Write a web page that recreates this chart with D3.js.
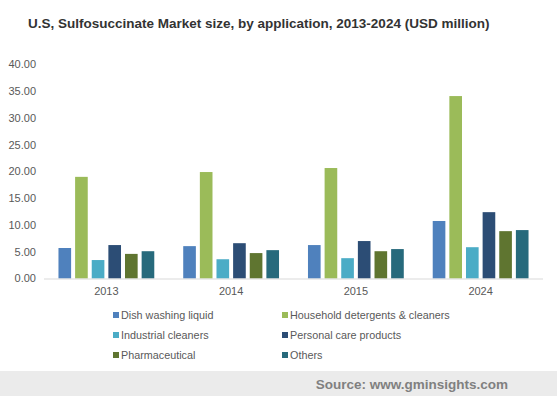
<!DOCTYPE html>
<html>
<head>
<meta charset="utf-8">
<script src="https://cdn.jsdelivr.net/npm/d3@7"></script>
<style>
  body { margin: 0; background: #fff; }
  svg { display: block; font-family: "Liberation Sans", Arial, sans-serif; }
</style>
</head>
<body>
<div id="chart"></div>
<script>
// US sulfosuccinate market by application, grouped bars

const years = ["2013", "2014", "2015", "2024"];
const seriesNames = [
  "Dish washing liquid",
  "Household detergents & cleaners",
  "Industrial cleaners",
  "Personal care products",
  "Pharmaceutical",
  "Others"
];
const dishWashing   = [5.7, 6.05, 6.25, 10.75];
const household     = [19.0, 19.9, 20.65, 34.1];
const industrial    = [3.45, 3.6, 3.8, 5.85];
const personalCare  = [6.25, 6.6, 7.0, 12.4];
const pharma        = [4.6, 4.75, 5.1, 8.85];
const others        = [5.1, 5.3, 5.5, 9.05];
const yTicks = [0, 5, 10, 15, 20, 25, 30, 35, 40];

const colors = ["#4F81BD", "#9BBB59", "#4BACC6", "#2C4D75", "#5F7530", "#276A7C"];
const allSeries = [dishWashing, household, industrial, personalCare, pharma, others];

const W = 557, H = 396;
const m = { left: 44, right: 14, top: 65, bottom: 118 };

const svg = d3.select("#chart").append("svg")
  .attr("width", W)
  .attr("height", H);

svg.append("text")
  .attr("x", 28)
  .attr("y", 28)
  .attr("font-size", 13.5)
  .attr("font-weight", "bold")
  .attr("fill", "#333")
  .text("U.S, Sulfosuccinate Market size, by application, 2013-2024 (USD million)");

const x0 = d3.scaleBand()
  .domain(years)
  .range([m.left, W - m.right])
  .paddingInner(0.2)
  .paddingOuter(0.1);

const x1 = d3.scaleBand()
  .domain(seriesNames)
  .range([0, x0.bandwidth()])
  .paddingInner(0.24)
  .paddingOuter(0.12);

const y = d3.scaleLinear()
  .domain([0, 40])
  .range([278.5, 64.5]);

// y tick labels
svg.append("g").selectAll("text")
  .data(yTicks)
  .enter()
  .append("text")
  .attr("x", 36)
  .attr("y", d => y(d))
  .attr("dy", "0.35em")
  .attr("text-anchor", "end")
  .attr("font-size", 11)
  .attr("fill", "#595959")
  .text(d => d.toFixed(2));

// bars
const groups = svg.append("g").selectAll("g")
  .data(years)
  .enter()
  .append("g")
  .attr("transform", d => `translate(${x0(d)},0)`);

groups.selectAll("rect")
  .data((yr, i) => allSeries.map((s, k) => ({ name: seriesNames[k], value: s[i], k })))
  .enter()
  .append("rect")
  .attr("x", d => x1(d.name))
  .attr("y", d => y(d.value))
  .attr("width", x1.bandwidth())
  .attr("height", d => y(0) - y(d.value))
  .attr("fill", d => colors[d.k]);

// baseline
svg.append("line")
  .attr("x1", m.left)
  .attr("x2", W - m.right)
  .attr("y1", y(0) + 0.5)
  .attr("y2", y(0) + 0.5)
  .attr("stroke", "#d9d9d9");

// x labels
svg.append("g").selectAll("text")
  .data(years)
  .enter()
  .append("text")
  .attr("x", d => x0(d) + x0.bandwidth() / 2)
  .attr("y", 291)
  .attr("dy", "0.35em")
  .attr("text-anchor", "middle")
  .attr("font-size", 11)
  .attr("fill", "#595959")
  .text(d => d);

// legend, two columns
const legend = svg.append("g").selectAll("g")
  .data(seriesNames)
  .enter()
  .append("g")
  .attr("transform", (d, i) => `translate(${i % 2 === 0 ? 113 : 282},${315 + Math.floor(i / 2) * 20})`);

legend.append("rect")
  .attr("x", 0)
  .attr("y", -3)
  .attr("width", 6)
  .attr("height", 6)
  .attr("fill", (d, i) => colors[i]);

legend.append("text")
  .attr("x", 8)
  .attr("y", 0)
  .attr("dy", "0.35em")
  .attr("font-size", 10.8)
  .attr("fill", "#595959")
  .text(d => d);

// footer band
svg.append("rect")
  .attr("x", 0)
  .attr("y", 371)
  .attr("width", W)
  .attr("height", H - 371)
  .attr("fill", "#ebebeb");

svg.append("text")
  .attr("x", 508)
  .attr("y", 384)
  .attr("dy", "0.35em")
  .attr("text-anchor", "end")
  .attr("font-size", 13.5)
  .attr("font-weight", "bold")
  .attr("fill", "#808080")
  .text("Source: www.gminsights.com");
</script>
</body>
</html>
